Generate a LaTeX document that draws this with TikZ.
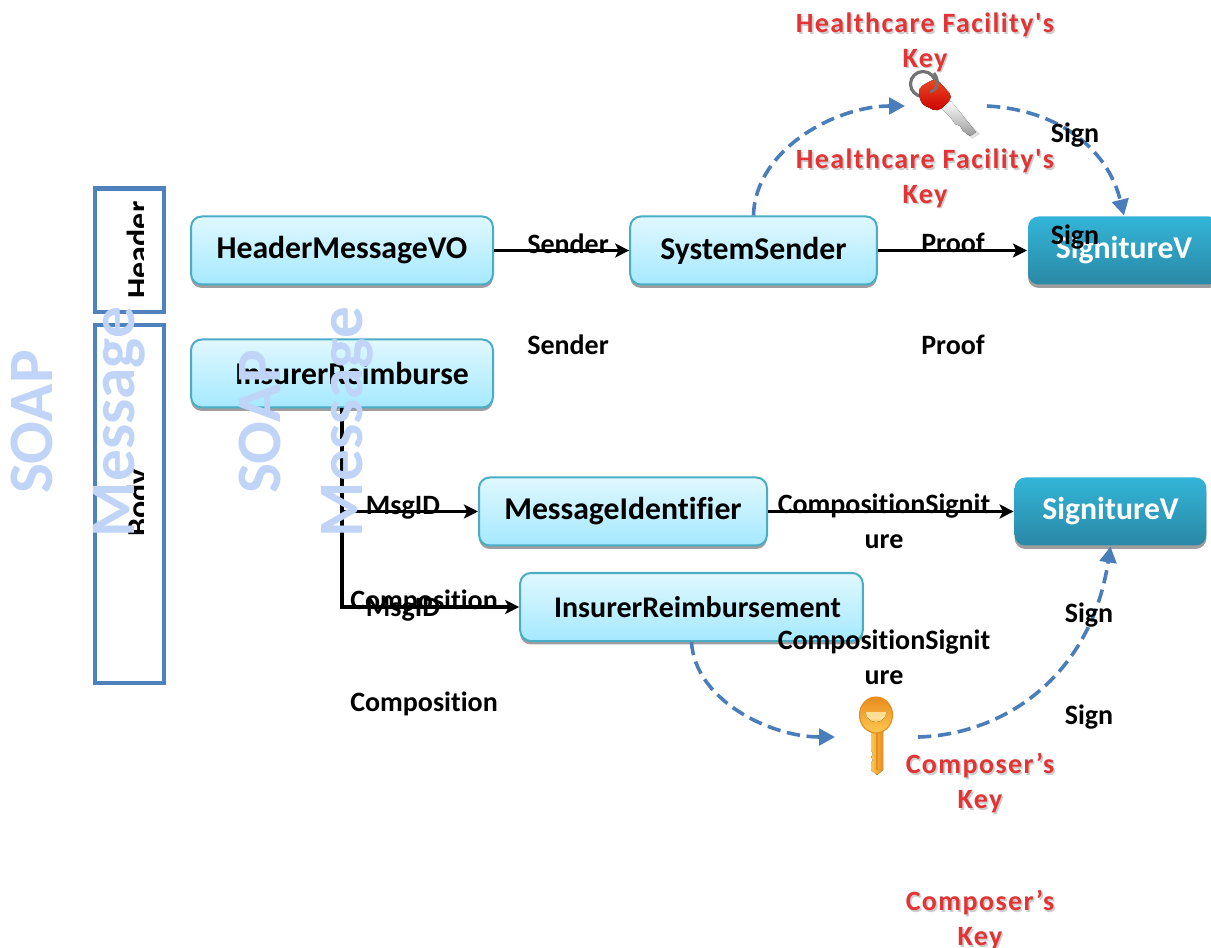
\documentclass[tikz,border=0pt]{standalone}
\usepackage{fontspec}
\setmainfont{Carlito}[Ligatures={TeXOff,CommonOff}]
\usetikzlibrary{arrows.meta}
\usetikzlibrary{shadows}
\definecolor{boxline}{RGB}{75,172,198}
\definecolor{boxtop}{RGB}{224,248,255}
\definecolor{boxbottom}{RGB}{165,233,255}
\definecolor{sigtop}{RGB}{51,181,216}
\definecolor{sigbottom}{RGB}{42,136,165}
\definecolor{keyred}{RGB}{226,52,52}
\definecolor{keyshade}{RGB}{205,205,205}
\definecolor{soapblue}{RGB}{191,212,247}
\definecolor{dashblue}{RGB}{74,126,187}
\definecolor{framblue}{RGB}{79,129,189}
\definecolor{goldlight}{RGB}{252,200,80}
\definecolor{golddark}{RGB}{232,140,30}
\newcommand{\keytext}[1]{\leavevmode\rlap{\raisebox{-1.2pt}{\hspace{1.2pt}\textcolor{keyshade}{#1}}}\textcolor{keyred}{#1}}
\tikzset{
  voBox/.style={draw=boxline,line width=1.5pt,rounded corners=8pt,top color=boxtop,bottom color=boxbottom,
    drop shadow={shadow xshift=0pt,shadow yshift=-2.6pt,fill=black!38,opacity=1},
    minimum height=51pt,inner sep=0pt,font=\fontsize{23.8}{28}\selectfont\bfseries},
  sigBox/.style={voBox,draw=none,top color=sigtop,bottom color=sigbottom,text=white},
  partBox/.style={draw=framblue,line width=3.6pt},
  linkArrow/.style={line width=2.4pt,-{Stealth[length=10.5pt,width=10.5pt,inset=2.5pt]}},
  signArrow/.style={draw=dashblue,line width=2.7pt,dash pattern=on 10pt off 5pt,-{Triangle[length=12pt,width=12.5pt]}},
  edgeLabel/.style={align=center,inner sep=0.75pt,font=\fontsize{21}{26}\selectfont\bfseries},
  keyLabel/.style={edgeLabel,font=\fontsize{21}{26}\selectfont\bfseries\addfontfeature{LetterSpace=5},text=keyred},
  soapLabel/.style={rotate=90,align=center,text=soapblue,font=\fontsize{47.5}{61.5}\selectfont\bfseries},
  partLabel/.style={rotate=90,anchor=base,inner sep=0pt,font=\fontsize{24}{26}\selectfont\bfseries}
}
\begin{document}
\begin{tikzpicture}[x=0.75pt,y=0.75pt,yscale=-1,xscale=1]
\useasboundingbox (0,0) rectangle (1211,948);

%Header and body frames
\draw [partBox] (95,188.5) rectangle (164,312);
\draw [partBox] (95,325) rectangle (164,683);
\begin{scope}
\clip (95,188) rectangle (143,683);
\node (headerText) at (149,250) [partLabel] {Header};
\node (bodyText) at (149,503) [partLabel] {Body};
\end{scope}

%Boxes
\node (headerVO) at (342,250.5) [voBox,minimum width=226.5pt] {HeaderMessageVO};
\node (systemSender) at (753.5,250.5) [voBox,minimum width=185pt] {SystemSender};
\node (signatureTop) at (1124,250.5) [sigBox,minimum width=144pt] {SignitureV};
\node (insurerVO) at (342,373.5) [voBox,minimum width=226.5pt] {\hspace*{15pt}InsurerReimburse};
\node (messageId) at (623,511.5) [voBox,minimum width=216pt] {MessageIdentifier};
\node (signatureLow) at (1110.5,511.5) [sigBox,minimum width=143.8pt] {SignitureV};
\node (reimbursement) at (691.5,607) [voBox,minimum width=257pt,font=\fontsize{22.5}{26}\selectfont\bfseries] {\hspace*{9pt}InsurerReimbursement};

%Solid links
\draw [linkArrow] (headerVO) -- (systemSender);
\draw [linkArrow] (systemSender) -- (signatureTop);
\draw [linkArrow] (insurerVO.south) |- (messageId.west);
\draw [linkArrow] (insurerVO.south) |- (reimbursement.west);
\draw [linkArrow] (messageId) -- (signatureLow);

%Red key
\coordinate (redKeyIn) at (905,106);
\coordinate (redKeyOut) at (987,106);
\fill [black!12] (945,112) -- (955,108) -- (980,134) -- (972,139) -- cycle;
\fill [top color=white,bottom color=black!40] (941,108) -- (951,101) -- (976,132) -- (970,136) -- (963,131) -- (960,126) -- (955,124) -- (951,118) -- cycle;
\draw [black!55,line width=2.4pt] (923,84) circle [radius=12.5];
\fill [top color=keyred!70!orange,bottom color=red!80!black,rounded corners=4pt] (918,88) -- (936,78) -- (953,97) -- (938,112) -- (921,104) -- cycle;
\draw [black!55,line width=2pt] (934,73) .. controls (940,80) and (938,90) .. (930,92);

%Gold key
\coordinate (goldKeyIn) at (835,737);
\coordinate (goldKeyOut) at (918,737);
\fill [left color=goldlight,right color=golddark] (871,728) -- (883,728) -- (883,770) -- (877,775) -- (871,770) -- (871,763) -- (873,760) -- (871,757) -- (873,754) -- (871,750) -- cycle;
\draw [golddark,line width=0.8pt] (877,732) -- (877,770);
\fill [top color=golddark,bottom color=goldlight,draw=golddark,line width=0.8pt] (876,715) ellipse [x radius=16.5,y radius=18];
\fill [top color=white,bottom color=goldlight] (866,712) arc [start angle=180,end angle=0,radius=10] -- cycle;
\fill [goldlight!60!white] (866,712) -- (886,712) -- (885,717) -- (867,717) -- cycle;

%Dashed links
\draw [signArrow] (systemSender.north) .. controls (755,150) and (835,106) .. (redKeyIn);
\draw [signArrow] (redKeyOut) .. controls (1060,110) and (1108,150) .. (signatureTop.north);
\draw [signArrow] (reimbursement.south) .. controls (695,700) and (770,737) .. (goldKeyIn);
\draw [signArrow] (goldKeyOut) .. controls (1000,735) and (1090,680) .. (signatureLow.south);

% Text Node
\node (senderA) at (568,244) [edgeLabel] {Sender};
\node (senderB) at (568,345) [edgeLabel] {Sender};
\node (proofA) at (953,243) [edgeLabel] {Proof};
\node (proofB) at (953,345) [edgeLabel] {Proof};
\node (signA) at (1075,135) [edgeLabel] {Sign};
\node (signB) at (1075,237) [edgeLabel] {Sign};
\node (msgIdA) at (403,507.5) [edgeLabel] {MsgID};
\node (msgIdB) at (403,609.5) [edgeLabel] {MsgID};
\node (compositionA) at (424,602) [edgeLabel] {Composition};
\node (compositionB) at (424,704) [edgeLabel] {Composition};
\node (compSignA) at (884,521) [edgeLabel] {CompositionSignit\\ure};
\node (compSignB) at (884,657) [edgeLabel] {CompositionSignit\\ure};
\node (signC) at (1089,615) [edgeLabel] {Sign};
\node (signD) at (1089,717) [edgeLabel] {Sign};
\node (healthA) at (925,43) [keyLabel] {\keytext{Healthcare Facility's}\\\keytext{Key}};
\node (healthB) at (925,179) [keyLabel] {\keytext{Healthcare Facility's}\\\keytext{Key}};
\node (composerA) at (980,784) [keyLabel] {\keytext{Composer’s}\\\keytext{Key}};
\node (composerB) at (980,921) [keyLabel] {\keytext{Composer’s}\\\keytext{Key}};
\node (soapA) at (78,422) [soapLabel] {SOAP\\Message};
\node (soapB) at (306.5,422) [soapLabel] {SOAP\\Message};
\end{tikzpicture}
\end{document}
